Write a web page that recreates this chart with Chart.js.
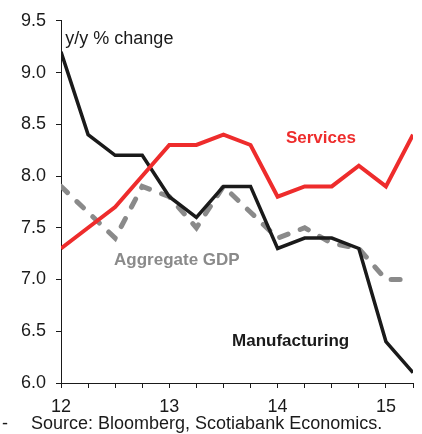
<!DOCTYPE html>
<html lang="en">
<head>
    <meta charset="UTF-8">
    <title>Manufacturing vs Services Growth</title>
    <style>
        body {
            margin: 0;
            padding: 0;
            background-color: #fff;
        }
        .wrap {
            position: relative;
            width: 422px;
            height: 434px;
        }
    </style>
    <script src="https://cdn.jsdelivr.net/npm/chart.js"></script>
</head>
<body>
    <div class="wrap">
        <canvas id="growthChart"></canvas>
    </div>

    <script>
        // quarterly observations, year 12.00 = Q1 2012
        const quarters = [12, 12.25, 12.5, 12.75, 13, 13.25, 13.5, 13.75, 14, 14.25, 14.5, 14.75, 15, 15.25];
        const services = [7.3, 7.5, 7.7, 8.0, 8.3, 8.3, 8.4, 8.3, 7.8, 7.9, 7.9, 8.1, 7.9, 8.4];
        const manufacturing = [9.2, 8.4, 8.2, 8.2, 7.8, 7.6, 7.9, 7.9, 7.3, 7.4, 7.4, 7.3, 6.4, 6.1];
        const aggregateGdp = [7.9, 7.65, 7.4, 7.9, 7.8, 7.5, 7.9, 7.65, 7.4, 7.5, 7.35, 7.3, 7.0, 7.0];
        const yearLabels = [12, 13, 14, 15];

        const FONT = 'Arial, "Liberation Sans", sans-serif';
        const RED = '#ee2c2c';
        const GREY = '#8a8a8a';
        const INK = '#1a1a1a';

        const toPoints = values => values.map((v, i) => ({ x: quarters[i], y: v }));

        // series labels placed in data space
        const seriesLabels = [
            { text: 'Services', x: 14.4, y: 8.36, color: RED, bold: true, align: 'center' },
            { text: 'Aggregate GDP', x: 13.07, y: 7.185, color: GREY, bold: true, align: 'center' },
            { text: 'Manufacturing', x: 14.12, y: 6.4, color: INK, bold: true, align: 'center' },
            { text: 'y/y % change', x: 12.04, y: 9.325, color: INK, bold: false, align: 'left' }
        ];

        const annotate = {
            id: 'annotate',
            afterDatasetsDraw(chart) {
                const ctx = chart.ctx;
                const xs = chart.scales.x;
                const ys = chart.scales.y;
                ctx.save();
                ctx.textBaseline = 'middle';
                seriesLabels.forEach(l => {
                    ctx.font = (l.bold ? 'bold 17px ' : '18px ') + FONT;
                    ctx.fillStyle = l.color;
                    ctx.textAlign = l.align;
                    ctx.fillText(l.text, xs.getPixelForValue(l.x), ys.getPixelForValue(l.y));
                });
                ctx.font = '18px ' + FONT;
                ctx.fillStyle = INK;
                ctx.textAlign = 'left';
                ctx.fillText('Source: Bloomberg, Scotiabank Economics.', 31, 424);
                ctx.fillText('-', 2, 424);
                ctx.restore();
            }
        };

        new Chart(document.getElementById('growthChart'), {
            type: 'line',
            data: {
                datasets: [
                    {
                        label: 'Services',
                        data: toPoints(services),
                        borderColor: RED,
                        borderWidth: 4,
                        pointRadius: 0,
                        tension: 0
                    },
                    {
                        label: 'Manufacturing',
                        data: toPoints(manufacturing),
                        borderColor: INK,
                        borderWidth: 3.5,
                        pointRadius: 0,
                        tension: 0
                    },
                    {
                        label: 'Aggregate GDP',
                        data: toPoints(aggregateGdp),
                        borderColor: GREY,
                        borderWidth: 5,
                        borderDash: [9, 13],
                        borderCapStyle: 'round',
                        pointRadius: 0,
                        tension: 0
                    }
                ]
            },
            options: {
                responsive: true,
                maintainAspectRatio: false,
                animation: false,
                layout: {
                    padding: { left: 0, top: 16, right: 9, bottom: 21 }
                },
                plugins: {
                    legend: { display: false },
                    tooltip: { enabled: false }
                },
                scales: {
                    x: {
                        type: 'linear',
                        min: quarters[0],
                        max: quarters[quarters.length - 1],
                        afterFit(scale) { scale.height = 30; },
                        afterBuildTicks(scale) {
                            scale.ticks = quarters.map(q => ({ value: q }));
                        },
                        grid: {
                            drawOnChartArea: false,
                            drawTicks: true,
                            tickLength: 5,
                            color: INK
                        },
                        border: { display: true, color: INK, width: 1 },
                        ticks: {
                            autoSkip: false,
                            maxRotation: 0,
                            padding: 8,
                            color: INK,
                            font: { family: FONT, size: 18 },
                            callback: v => yearLabels.includes(v) ? String(v) : ''
                        }
                    },
                    y: {
                        min: 6,
                        max: 9.5,
                        afterFit(scale) { scale.width = 61; },
                        grid: {
                            drawOnChartArea: false,
                            drawTicks: true,
                            tickLength: 5,
                            color: INK
                        },
                        border: { display: true, color: INK, width: 1 },
                        ticks: {
                            stepSize: 0.5,
                            padding: 10,
                            color: INK,
                            font: { family: FONT, size: 18 },
                            callback: v => v.toFixed(1)
                        }
                    }
                }
            },
            plugins: [annotate]
        });
    </script>
</body>
</html>
